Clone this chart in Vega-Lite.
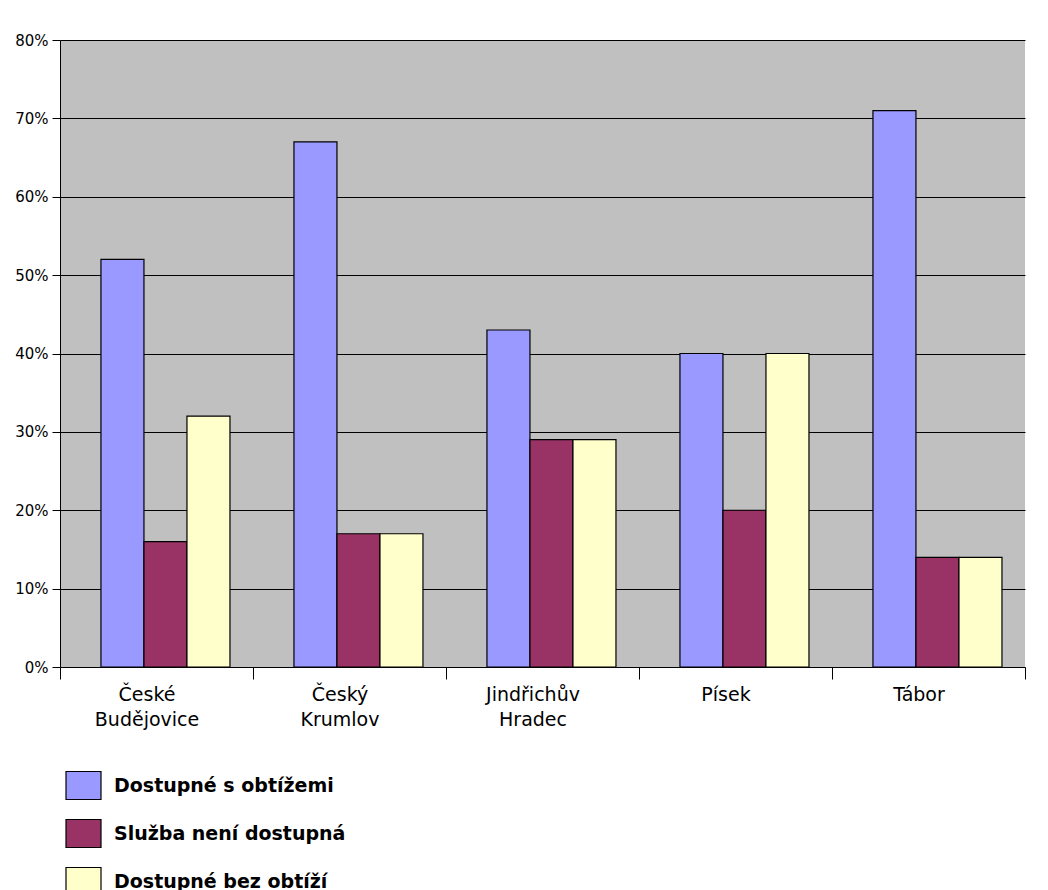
{
  "$schema": "https://vega.github.io/schema/vega-lite/v6.json",
  "width": 965,
  "height": 627,
  "autosize": {"type": "none"},
  "padding": {"left": 60, "top": 40, "right": 23, "bottom": 223},
  "background": "white",
  "config": {
    "view": {"fill": "#C0C0C0", "stroke": null},
    "font": "DejaVu Sans"
  },
  "data": {
    "values": [
      {"mesto": "České Budějovice", "typ": "Dostupné s obtížemi", "hodnota": 0.52},
      {"mesto": "České Budějovice", "typ": "Služba není dostupná", "hodnota": 0.16},
      {"mesto": "České Budějovice", "typ": "Dostupné bez obtíží", "hodnota": 0.32},
      {"mesto": "Český Krumlov", "typ": "Dostupné s obtížemi", "hodnota": 0.67},
      {"mesto": "Český Krumlov", "typ": "Služba není dostupná", "hodnota": 0.17},
      {"mesto": "Český Krumlov", "typ": "Dostupné bez obtíží", "hodnota": 0.17},
      {"mesto": "Jindřichův Hradec", "typ": "Dostupné s obtížemi", "hodnota": 0.43},
      {"mesto": "Jindřichův Hradec", "typ": "Služba není dostupná", "hodnota": 0.29},
      {"mesto": "Jindřichův Hradec", "typ": "Dostupné bez obtíží", "hodnota": 0.29},
      {"mesto": "Písek", "typ": "Dostupné s obtížemi", "hodnota": 0.40},
      {"mesto": "Písek", "typ": "Služba není dostupná", "hodnota": 0.20},
      {"mesto": "Písek", "typ": "Dostupné bez obtíží", "hodnota": 0.40},
      {"mesto": "Tábor", "typ": "Dostupné s obtížemi", "hodnota": 0.71},
      {"mesto": "Tábor", "typ": "Služba není dostupná", "hodnota": 0.14},
      {"mesto": "Tábor", "typ": "Dostupné bez obtíží", "hodnota": 0.14}
    ]
  },
  "mark": {"type": "bar", "stroke": "black", "strokeWidth": 1.2},
  "encoding": {
    "x": {
      "field": "mesto",
      "type": "nominal",
      "sort": ["České Budějovice", "Český Krumlov", "Jindřichův Hradec", "Písek", "Tábor"],
      "scale": {"paddingInner": 0, "paddingOuter": 0},
      "axis": {
        "title": null,
        "labelAngle": 0,
        "labelExpr": "split(datum.label, ' ')",
        "labelFontSize": 19,
        "labelColor": "black",
        "labelAlign": "center",
        "labelBaseline": "top",
        "labelPadding": 6,
        "labelLineHeight": 25,
        "labelOffset": -10,
        "tickBand": "extent",
        "tickSize": 12,
        "tickColor": "black",
        "domainColor": "black",
        "grid": false
      }
    },
    "xOffset": {
      "field": "typ",
      "sort": ["Dostupné s obtížemi", "Služba není dostupná", "Dostupné bez obtíží"],
      "scale": {"paddingOuter": 0.744, "paddingInner": 0, "align": 0.64}
    },
    "y": {
      "field": "hodnota",
      "type": "quantitative",
      "scale": {"domain": [0, 0.8]},
      "axis": {
        "title": null,
        "format": ".0%",
        "values": [0, 0.1, 0.2, 0.3, 0.4, 0.5, 0.6, 0.7, 0.8],
        "gridColor": "black",
        "gridOpacity": 1,
        "domainColor": "black",
        "tickColor": "black",
        "tickSize": 8,
        "labelFontSize": 15,
        "labelColor": "black",
        "labelPadding": 4
      }
    },
    "color": {
      "field": "typ",
      "type": "nominal",
      "sort": ["Dostupné s obtížemi", "Služba není dostupná", "Dostupné bez obtíží"],
      "scale": {
        "domain": ["Dostupné s obtížemi", "Služba není dostupná", "Dostupné bez obtíží"],
        "range": ["#9999FF", "#993366", "#FFFFCC"]
      },
      "legend": {
        "title": null,
        "orient": "none",
        "legendX": 5,
        "legendY": 727,
        "direction": "vertical",
        "symbolType": "M-1,-0.8L1,-0.8L1,0.8L-1,0.8Z",
        "symbolSize": 1225,
        "symbolStrokeColor": "black",
        "symbolStrokeWidth": 1.2,
        "symbolOpacity": 1,
        "labelFontSize": 19,
        "labelFontWeight": "bold",
        "labelColor": "black",
        "labelOffset": 12,
        "rowPadding": 13,
        "labelLimit": 500
      }
    }
  }
}
